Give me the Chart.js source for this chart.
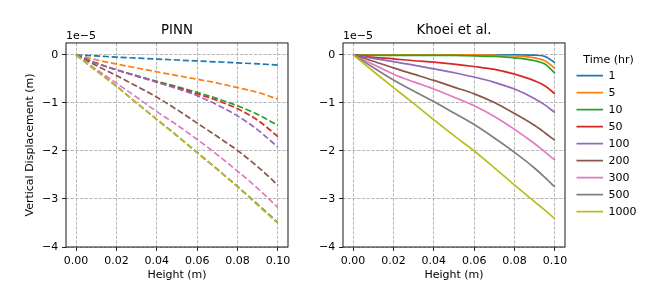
<!DOCTYPE html>
<html>
<head>
<meta charset="utf-8">
<script src="https://cdn.jsdelivr.net/npm/chart.js@4"></script>
<style>
  body { margin: 0; background: #fff; }
  #wrap { position: relative; width: 664px; height: 291px; }
  #left { position: absolute; left: 0; top: 0; }
  #right { position: absolute; left: 300px; top: 0; }
</style>
</head>
<body>
<div id="wrap">
  <canvas id="left" width="300" height="291"></canvas>
  <canvas id="right" width="364" height="291"></canvas>
</div>
<script>
// data (values in units of 1e-5 m)
const times = ['1', '5', '10', '50', '100', '200', '300', '500', '1000'];
const colors = ['#1f77b4', '#ff7f0e', '#2ca02c', '#d62728', '#9467bd', '#8c564b', '#e377c2', '#7f7f7f', '#bcbd22'];

const pinnHeights = [0, 0.01, 0.02, 0.03, 0.04, 0.05, 0.06, 0.07, 0.08, 0.09, 0.1];
const pinn1 = [0, -0.02, -0.045, -0.065, -0.085, -0.105, -0.125, -0.145, -0.165, -0.185, -0.21];
const pinn5 = [0, -0.1, -0.19, -0.27, -0.35, -0.43, -0.505, -0.585, -0.68, -0.78, -0.92];
const pinn10 = [0, -0.17, -0.31, -0.43, -0.55, -0.66, -0.78, -0.91, -1.06, -1.24, -1.47];
const pinn50 = [0, -0.17, -0.31, -0.44, -0.56, -0.68, -0.81, -0.95, -1.12, -1.36, -1.70];
const pinn100 = [0, -0.17, -0.31, -0.44, -0.57, -0.70, -0.85, -1.04, -1.27, -1.56, -1.92];
const pinn200 = [0, -0.22, -0.43, -0.65, -0.88, -1.14, -1.42, -1.70, -1.99, -2.33, -2.71];
const pinn300 = [0, -0.30, -0.59, -0.88, -1.18, -1.46, -1.76, -2.08, -2.42, -2.78, -3.18];
const pinn500 = [0, -0.33, -0.65, -1.00, -1.34, -1.68, -2.03, -2.38, -2.74, -3.11, -3.49];
const pinn1000 = [0, -0.33, -0.66, -1.00, -1.35, -1.69, -2.04, -2.39, -2.75, -3.13, -3.51];

const khoeiHeights = [0, 0.01, 0.02, 0.03, 0.04, 0.05, 0.06, 0.07, 0.08, 0.09, 0.095, 0.1];
const khoei1 = [0, 0, 0, 0, 0, 0, 0, 0, 0, -0.005, -0.03, -0.16];
const khoei5 = [0, 0, 0, 0, 0, 0, 0, -0.005, -0.02, -0.06, -0.12, -0.28];
const khoei10 = [0, -0.01, -0.01, -0.01, -0.01, -0.01, -0.02, -0.03, -0.06, -0.12, -0.19, -0.38];
const khoei50 = [0, -0.05, -0.08, -0.12, -0.15, -0.19, -0.24, -0.30, -0.40, -0.54, -0.64, -0.81];
const khoei100 = [0, -0.07, -0.14, -0.21, -0.29, -0.37, -0.46, -0.57, -0.71, -0.91, -1.04, -1.20];
const khoei200 = [0, -0.13, -0.27, -0.40, -0.53, -0.67, -0.81, -0.99, -1.22, -1.47, -1.62, -1.78];
const khoei300 = [0, -0.20, -0.40, -0.56, -0.71, -0.88, -1.06, -1.28, -1.55, -1.85, -2.02, -2.19];
const khoei500 = [0, -0.26, -0.52, -0.75, -0.97, -1.21, -1.45, -1.73, -2.03, -2.36, -2.55, -2.75];
const khoei1000 = [0, -0.34, -0.68, -1.01, -1.35, -1.68, -2.00, -2.35, -2.71, -3.06, -3.23, -3.41];

const xTicks = [0, 0.02, 0.04, 0.06, 0.08, 0.1];
const yTicks = [-4, -3, -2, -1, 0];
const yOffsetLabel = '1e\u22125';

const pinnSeries = [pinn1, pinn5, pinn10, pinn50, pinn100, pinn200, pinn300, pinn500, pinn1000];
const khoeiSeries = [khoei1, khoei5, khoei10, khoei50, khoei100, khoei200, khoei300, khoei500, khoei1000];

Chart.defaults.font.family = '"DejaVu Sans"';
Chart.defaults.font.size = 11;
Chart.defaults.color = '#000';

// matplotlib-like box around the axes plus the "1e-5" offset text
const frame = {
  id: 'frame',
  afterDatasetsDraw(chart) {
    const { ctx, chartArea: a } = chart;
    ctx.save();
    ctx.strokeStyle = '#000';
    ctx.lineWidth = 0.9;
    ctx.strokeRect(a.left, a.top, a.right - a.left, a.bottom - a.top);
    ctx.font = '11px "DejaVu Sans"';
    ctx.fillStyle = '#000';
    ctx.textBaseline = 'bottom';
    ctx.fillText(yOffsetLabel, a.left, a.top - 1);
    ctx.restore();
  },
};

// push the legend a little away from the axes, like matplotlib's borderaxespad
const legendGap = {
  id: 'legendGap',
  afterLayout(chart) {
    if (chart.legend) {
      chart.legend.left += 5.5;
      chart.legend.right += 5.5;
    }
  },
};

const makeDatasets = (xs, series, dashed) =>
  series.map((ys, i) => ({
    label: times[i],
    data: xs.map((x, j) => ({ x: x, y: ys[j] })),
    borderColor: colors[i],
    backgroundColor: colors[i],
    borderWidth: 1.7,
    borderDash: dashed ? [6.2, 2.7] : [],
    pointRadius: 0,
    cubicInterpolationMode: 'monotone',
    order: series.length - i,
  }));

const makeScales = (yWidth, showYTitle) => ({
  x: {
    type: 'linear',
    min: -0.005,
    max: 0.105,
    afterBuildTicks: (s) => { s.ticks = xTicks.map((v) => ({ value: v })); },
    afterFit: (s) => { s.height = 39; },
    ticks: { callback: (v) => v.toFixed(2), padding: 3.9, autoSkip: false, maxRotation: 0 },
    grid: { color: '#b0b0b0', lineWidth: 0.9, tickLength: 3.9, tickColor: '#000', tickWidth: 0.9 },
    border: { display: false, dash: [3.3, 1.4] },
    title: { display: true, text: 'Height (m)', padding: { top: 4, bottom: 4 } },
  },
  y: {
    min: -4,
    max: 0.25,
    afterBuildTicks: (s) => { s.ticks = yTicks.map((v) => ({ value: v })); },
    afterFit: (s) => { s.width = yWidth; },
    ticks: { callback: (v) => (v < 0 ? '\u2212' + Math.abs(v) : String(v)), padding: 3.9 },
    grid: { color: '#b0b0b0', lineWidth: 0.9, tickLength: 3.9, tickColor: '#000', tickWidth: 0.9 },
    border: { display: false, dash: [3.3, 1.4] },
    title: { display: showYTitle, text: 'Vertical Displacement (m)', padding: { top: 4, bottom: 4 } },
  },
});

const titleOpts = (text) => ({
  display: true,
  text: text,
  fullSize: false,
  font: { size: 13.3, weight: 'normal' },
  padding: { top: 3, bottom: 4 },
});

new Chart(document.getElementById('left'), {
  type: 'line',
  data: { datasets: makeDatasets(pinnHeights, pinnSeries, true) },
  options: {
    responsive: false,
    animation: false,
    devicePixelRatio: 1,
    layout: { padding: { left: 20, top: 20, right: 12, bottom: 5 } },
    scales: makeScales(46, true),
    plugins: {
      title: titleOpts('PINN'),
      legend: { display: false },
      tooltip: { enabled: false },
    },
  },
  plugins: [frame],
});

new Chart(document.getElementById('right'), {
  type: 'line',
  data: { datasets: makeDatasets(khoeiHeights, khoeiSeries, false) },
  options: {
    responsive: false,
    animation: false,
    devicePixelRatio: 1,
    layout: { padding: { left: 0, top: 20, right: 23, bottom: 5 } },
    scales: makeScales(43, false),
    plugins: {
      title: titleOpts('Khoei et al.'),
      legend: {
        position: 'right',
        align: 'start',
        title: { display: true, text: 'Time (hr)', padding: { top: 35, bottom: -4 } },
        labels: {
          usePointStyle: true,
          pointStyle: 'line',
          pointStyleWidth: 26.5,
          boxHeight: 11,
          padding: 6,
          sort: (a, b) => a.datasetIndex - b.datasetIndex,
        },
      },
      tooltip: { enabled: false },
    },
  },
  plugins: [frame, legendGap],
});
</script>
</body>
</html>
